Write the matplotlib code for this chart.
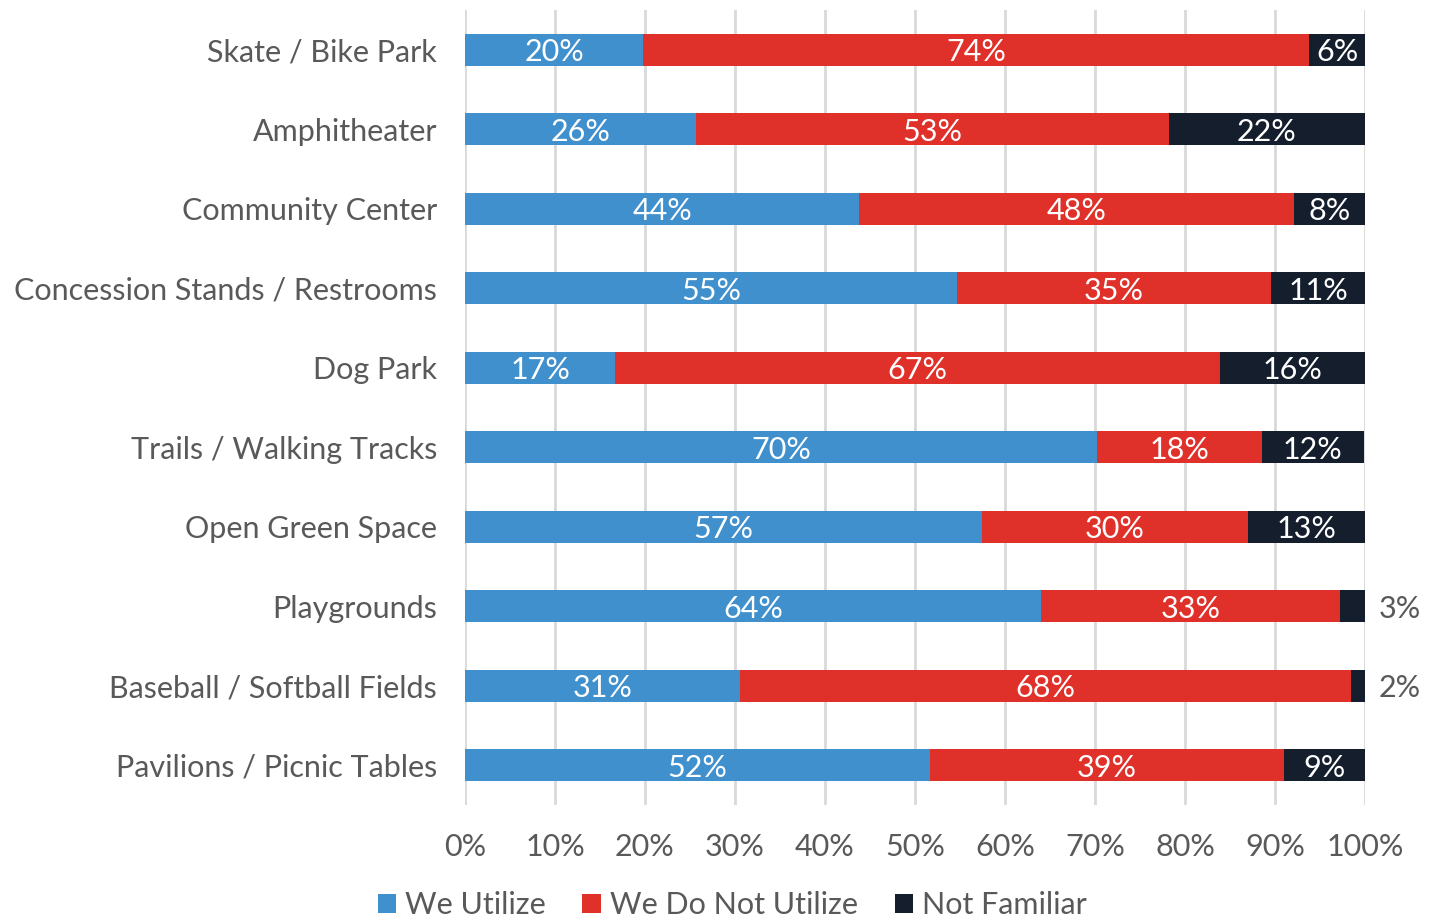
import matplotlib
matplotlib.use("Agg")
import matplotlib.pyplot as plt
import numpy as np

categories = ["Skate / Bike Park", "Amphitheater", "Community Center",
              "Concession Stands / Restrooms", "Dog Park", "Trails / Walking Tracks",
              "Open Green Space", "Playgrounds", "Baseball / Softball Fields",
              "Pavilions / Picnic Tables"]
utilize = [19.8, 25.7, 43.8, 54.7, 16.7, 70.2, 57.4, 64.0, 30.6, 51.7]
not_utilize = [74.0, 52.5, 48.3, 34.8, 67.2, 18.3, 29.6, 33.2, 67.8, 39.3]
not_familiar = [6.2, 21.8, 7.9, 10.6, 16.1, 11.4, 13.0, 2.8, 1.7, 9.0]
lab_utilize = [20, 26, 44, 55, 17, 70, 57, 64, 31, 52]
lab_not_utilize = [74, 53, 48, 35, 67, 18, 30, 33, 68, 39]
lab_not_familiar = [6, 22, 8, 11, 16, 12, 13, 3, 2, 9]
series = ["We Utilize", "We Do Not Utilize", "Not Familiar"]
colors = ["#4190CE", "#E0302A", "#141E2D"]
TXT = "#595959"

plt.rcParams["font.family"] = ["Lato", "DejaVu Sans"]

fig = plt.figure(figsize=(14.4, 9.22), dpi=100)
ax = fig.add_axes([465 / 1440, 1 - 805 / 922, 900 / 1440, 795 / 922])

y = np.arange(len(categories))
left = np.zeros(len(categories))
vals = [utilize, not_utilize, not_familiar]
labs = [lab_utilize, lab_not_utilize, lab_not_familiar]
for k in range(3):
    v = np.array(vals[k])
    ax.barh(y, v, left=left, height=0.4, color=colors[k], label=series[k], zorder=2)
    for i in range(len(y)):
        if k == 2 and v[i] < 4:
            # too thin for an inside label
            ax.text(101.5, y[i], f"{labs[k][i]}%", ha="left", va="center_baseline",
                    fontsize=22, color=TXT)
        else:
            ax.text(left[i] + v[i] / 2, y[i], f"{labs[k][i]}%", ha="center",
                    va="center_baseline", fontsize=22, color="white", zorder=3)
    left += v

ax.set_xlim(0, 100)
ax.set_ylim(len(categories) - 0.5, -0.5)
ax.set_yticks(y)
ax.set_yticklabels(categories, fontsize=22, color=TXT)
ax.set_xticks(np.arange(0, 101, 10))
ax.set_xticklabels([f"{t}%" for t in range(0, 101, 10)], fontsize=22, color=TXT)
ax.tick_params(axis="both", length=0)
ax.tick_params(axis="y", pad=20)
ax.tick_params(axis="x", pad=20)
ax.grid(axis="x", color="#D9D9D9", lw=2, zorder=0)
for s in ax.spines.values():
    s.set_visible(False)

ax.legend(loc="center left", bbox_to_anchor=(350 / 1440, 1 - 905 / 922), bbox_transform=fig.transFigure,
          ncol=3, frameon=False, fontsize=22, handlelength=0.6, handleheight=0.6,
          handletextpad=0.3, columnspacing=1.2, labelcolor=TXT)

fig.savefig("out.png", dpi=100)
